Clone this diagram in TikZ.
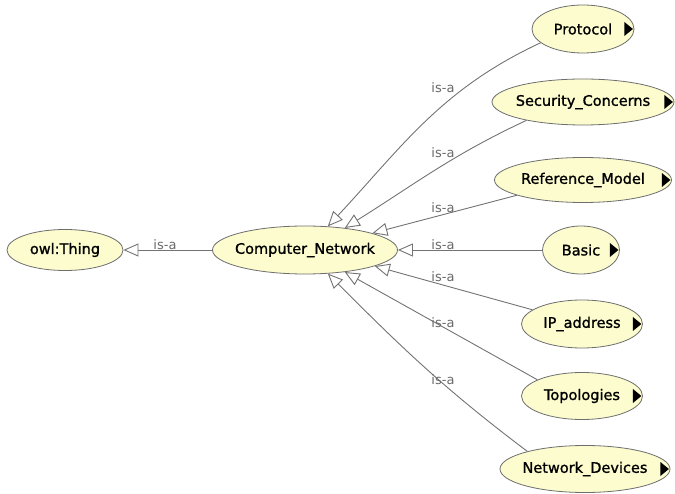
\documentclass[tikz,border=0pt]{standalone}
\usepackage{fontspec}
\setmainfont{DejaVu Sans}
\newfontfamily\nodefont[FakeBold=1.2]{DejaVu Sans}
\usetikzlibrary{shapes.geometric,arrows.meta,calc}
\definecolor{nodefill}{RGB}{252,252,206}
\definecolor{nodeborder}{RGB}{110,110,110}
\definecolor{edgecol}{RGB}{115,115,115}
\definecolor{labelcol}{RGB}{105,105,105}
\newcommand\subarrow[1]{\fill ($(#1.east)+(-10,7)$) -- ($(#1.east)+(-1.5,0)$) -- ($(#1.east)+(-10,-7)$) -- cycle;}
\begin{document}
\begin{tikzpicture}[x=1pt,y=1pt,
  cls/.style={ellipse, draw=nodeborder, fill=nodefill, line width=0.8pt, inner sep=0pt,
              font=\nodefont\fontsize{14.5}{16}\selectfont},
  isa/.style={draw=edgecol, line width=0.9pt,
              -{Triangle[length=15pt,width=13pt,fill=white]}},
  lbl/.style={text=labelcol, font=\fontsize{13}{14}\selectfont, inner sep=0pt}]
\useasboundingbox (0,0) rectangle (675,493);

\node[cls, minimum width=116pt, minimum height=41pt] (thing) at (65,243) {\makebox[0pt]{owl:Thing}};
\node[cls, minimum width=185pt, minimum height=48pt] (cn) at (305,243) {\makebox[0pt]{Computer\_Network}};
\node[cls, minimum width=102pt, minimum height=48pt] (proto) at (583,464) {\makebox[0pt]{Protocol}};
\node[cls, minimum width=182pt, minimum height=46pt] (sec) at (583,391) {\makebox[0pt]{Security\_Concerns}};
\node[cls, minimum width=177pt, minimum height=45pt] (ref) at (583,313) {\makebox[0pt]{Reference\_Model}};
\node[cls, minimum width=77pt, minimum height=48pt] (basic) at (581,243) {\makebox[0pt]{Basic}};
\node[cls, minimum width=121pt, minimum height=48pt] (ip) at (582,169) {\makebox[0pt]{IP\_address}};
\node[cls, minimum width=121pt, minimum height=47pt] (topo) at (582,97) {\makebox[0pt]{Topologies}};
\node[cls, minimum width=170pt, minimum height=47pt] (dev) at (585,24) {\makebox[0pt]{Network\_Devices}};

\subarrow{proto}
\subarrow{sec}
\subarrow{ref}
\subarrow{basic}
\subarrow{ip}
\subarrow{topo}
\subarrow{dev}

\draw[isa] (cn.west) -- (thing.east);
\draw[isa] (proto.198) to[out=205,in=47] (cn.46);
\draw[isa] (sec.198) to[out=205,in=32] (cn.29);
\draw[isa] (ref.193) -- (cn.14);
\draw[isa] (basic.west) -- (cn.east);
\draw[isa] (ip.164) -- (cn.-13);
\draw[isa] (topo.160) -- (cn.-29);
\draw[isa] (dev.163) to[out=143,in=-45] (cn.-46);

\node[lbl] (l0) at (165,248) {is-a};
\node[lbl] (l1) at (443,405) {is-a};
\node[lbl] (l2) at (443,340) {is-a};
\node[lbl] (l3) at (443,285) {is-a};
\node[lbl] (l4) at (443,248) {is-a};
\node[lbl] (l5) at (443,216) {is-a};
\node[lbl] (l6) at (443,170) {is-a};
\node[lbl] (l7) at (443,113) {is-a};
\end{tikzpicture}
\end{document}
